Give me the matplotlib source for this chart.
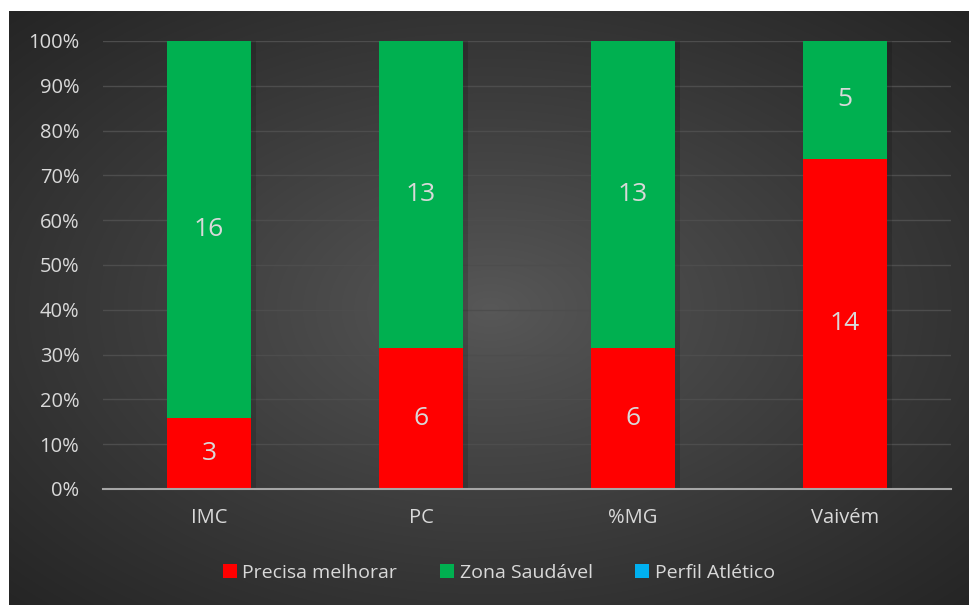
import numpy as np
import matplotlib
matplotlib.use('Agg')
from matplotlib import pyplot as plt
from matplotlib.patches import Patch
from matplotlib.ticker import FuncFormatter

categories = ["IMC", "PC", "%MG", "Vaivém"]
precisa = [3, 6, 6, 14]
zona = [16, 13, 13, 5]
perfil = [0, 0, 0, 0]
series_names = ["Precisa melhorar", "Zona Saudável", "Perfil Atlético"]
colors = ["#ff0000", "#00b050", "#00b0f0"]

plt.rcParams['font.family'] = ['Open Sans', 'DejaVu Sans']
text_color = "#d9d9d9"

fig = plt.figure(figsize=(9.7, 6.05), dpi=100)
fig.patch.set_facecolor("white")

# background with radial gradient
bg = fig.add_axes([9 / 970, 0, 961 / 970, 594 / 605])
bg.set_axis_off()
yy, xx = np.mgrid[0:300, 0:480]
cx, cy = 240, 150
r = np.sqrt(((xx - cx) / 480) ** 2 + ((yy - cy) / 300) ** 2) / np.sqrt(0.5)
r = np.clip(r, 0, 1)
shade = 0x58 - (0x58 - 0x25) * r ** 0.9
img = np.dstack([shade / 255] * 3)
bg.imshow(img, aspect='auto', interpolation='bilinear')

ax = fig.add_axes([103 / 970, 1 - 489 / 605, 848 / 970, 448 / 605])
ax.patch.set_alpha(0)

totals = np.array(precisa) + np.array(zona) + np.array(perfil)
x = np.arange(len(categories))

# soft shadow behind each stacked column
ax.bar(x + 0.012, 100, width=0.42, color='black', alpha=0.15, zorder=2)

bottom = np.zeros(len(categories))
for vals, name, c in zip([precisa, zona, perfil], series_names, colors):
    frac = np.array(vals) / totals * 100
    ax.bar(x, frac, width=0.4, bottom=bottom, color=c, label=name, zorder=3)
    for xi, v, f, b0 in zip(x, vals, frac, bottom):
        if v > 0:
            ax.text(xi, b0 + f / 2, str(v), ha='center', va='center',
                    color=text_color, fontsize=19, zorder=4)
    bottom += frac

ax.set_xlim(-0.5, 3.5)
ax.set_ylim(0, 100)
ax.set_yticks(np.arange(0, 101, 10))
ax.yaxis.set_major_formatter(FuncFormatter(lambda v, p: f"{int(v)}%"))
ax.set_xticks(x)
ax.set_xticklabels(categories)
ax.tick_params(axis='both', length=0, colors=text_color, labelsize=14.5)
ax.tick_params(axis='y', pad=17)
ax.tick_params(axis='x', pad=14)
ax.grid(axis='y', color="#4d4d4d", linewidth=1, zorder=0)
for s in ["top", "right", "left"]:
    ax.spines[s].set_visible(False)
ax.spines["bottom"].set_color("#a6a6a6")
ax.spines["bottom"].set_linewidth(1.5)
ax.spines["bottom"].set_zorder(5)

handles = [Patch(facecolor=c, label=n) for c, n in zip(colors, series_names)]
leg = fig.legend(handles=handles, loc='center', bbox_to_anchor=(499 / 970, 1 - 573 / 605),
                 ncol=3, frameon=False, fontsize=14, handlelength=0.7, handleheight=0.7,
                 handletextpad=0.3, columnspacing=2.2)
for t in leg.get_texts():
    t.set_color(text_color)

fig.savefig("out.png", dpi=100)
